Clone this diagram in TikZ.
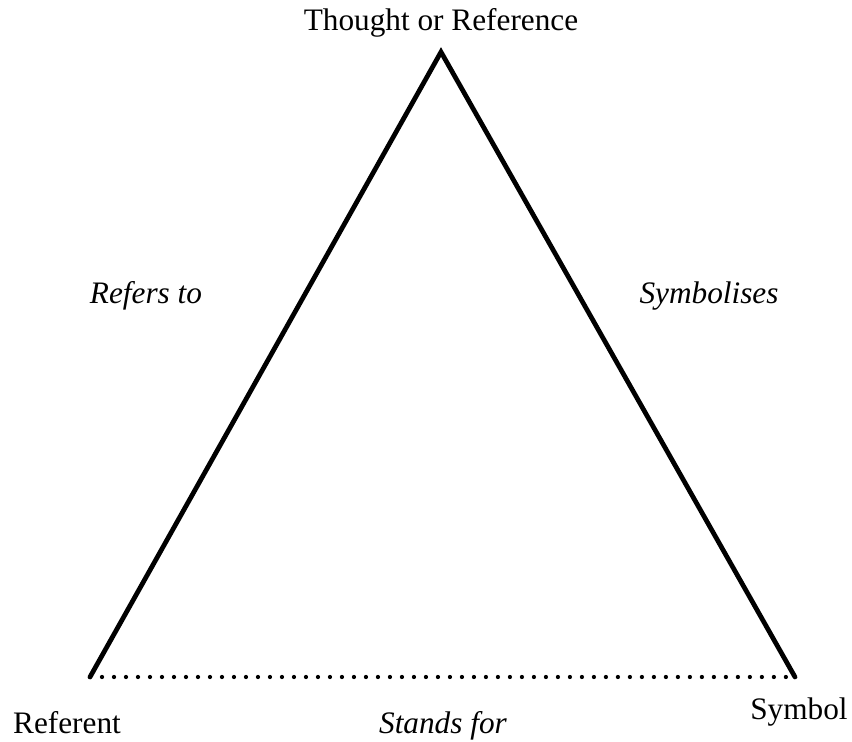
\documentclass[tikz,border=0pt]{standalone}
\usepackage{fontspec}
\setmainfont{Liberation Serif}
\begin{document}
\begin{tikzpicture}[x=0.02cm,y=-0.02cm,
	side/.style={line width=0.095cm, line cap=round, line join=miter},
	dotline/.style={line width=0.085cm, line cap=round, dash pattern=on 0pt off 0.24cm},
	lbl/.style={anchor=base, inner sep=0pt, font=\fontsize{17.8}{20}\selectfont},
	itlbl/.style={lbl, font=\fontsize{17.8}{20}\selectfont\itshape}]
			
			\useasboundingbox (0,0) rectangle (852,742);
			
			\coordinate (Thought) at (441,52);
			\coordinate (Ref) at (90,677);
			\coordinate (Sym) at (795,677);
			
			\draw[side] (Ref) -- (Thought) -- (Sym);
			\draw[dotline] (Ref) -- (Sym);
			
			\node[lbl] (Thought-Label) at (441,31) {Thought or Reference};
			\node[lbl] (Ref-Label) at (67,734) {Referent};
			\node[lbl] (Sym-Label) at (799,720) {Symbol};
			
			\node[itlbl] (Refers) at (146,304) {Refers to};
			\node[itlbl] (Symbolises) at (709,304) {Symbolises};
			\node[itlbl] (Stands) at (443,734) {Stands for};
			
		\end{tikzpicture}
\end{document}
